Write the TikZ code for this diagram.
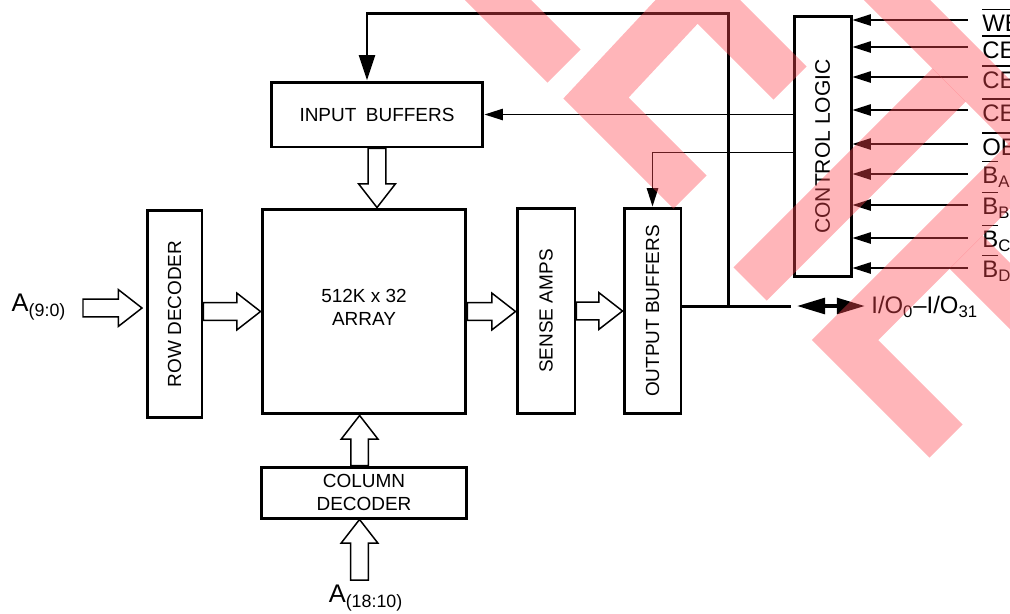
\documentclass[tikz,border=0pt]{standalone}
\usepackage{fontspec}
\setmainfont{Liberation Sans}
\usepackage{graphicx}
\usetikzlibrary{arrows.meta,calc,positioning}
\definecolor{wmred}{RGB}{255,70,80}
\newcommand{\negsig}[1]{\leavevmode\vbox{\hrule height 0.8pt\kern 2.8pt\hbox{#1}}}

\begin{document}
\begin{tikzpicture}[x=0.02cm, y=-0.02cm,
    block/.style={draw, line width=1.7pt, inner sep=0pt, align=center, font=\fontsize{10.8}{13}\selectfont},
    sig/.style={anchor=west, inner sep=0pt, font=\fontsize{13.6}{16}\selectfont},
    addr/.style={inner sep=0pt, font=\fontsize{14.5}{16}\selectfont},
    bus/.style={draw, line width=0.85pt, fill=white, line join=miter},
    rbus/.style={bus, to path={let \p1=(\tikztostart), \p2=(\tikztotarget) in (\x1,\y1+5pt) -- (\x2-13.5pt,\y1+5pt) -- (\x2-13.5pt,\y1+10.5pt) -- (\x2,\y1) -- (\x2-13.5pt,\y1-10.5pt) -- (\x2-13.5pt,\y1-5pt) -- (\x1,\y1-5pt) -- cycle}},
    ubus/.style={bus, to path={let \p1=(\tikztostart), \p2=(\tikztotarget) in (\x1-5pt,\y1) -- (\x1-5pt,\y2-13.5pt) -- (\x1-10.5pt,\y2-13.5pt) -- (\x1,\y2) -- (\x1+10.5pt,\y2-13.5pt) -- (\x1+5pt,\y2-13.5pt) -- (\x1+5pt,\y1) -- cycle}},
    dbus/.style={bus, to path={let \p1=(\tikztostart), \p2=(\tikztotarget) in (\x1-5pt,\y1) -- (\x1-5pt,\y2+13.5pt) -- (\x1-10.5pt,\y2+13.5pt) -- (\x1,\y2) -- (\x1+10.5pt,\y2+13.5pt) -- (\x1+5pt,\y2+13.5pt) -- (\x1+5pt,\y1) -- cycle}},
    ctl/.style={-{Triangle[length=10.5pt,width=6.5pt]}, line width=0.75pt},
    trunk/.style={line width=1.7pt},
    dbl/.style={{Triangle[length=16pt,width=9pt]}-{Triangle[length=16pt,width=9pt]}, line width=2pt},
    wm/.style={wmred, opacity=0.4, line width=0.94cm, line join=miter}
]
    \useasboundingbox (0,0) rectangle (1010,613);

    % blocks
    \node[block, minimum width=4.24cm, minimum height=1.3cm] (inbuf) at (377,114.5) {INPUT\enspace BUFFERS};
    \node[block, minimum width=4.08cm, minimum height=4.1cm] (array) at (364,311.5) {512K x 32\\ARRAY\\[-8pt]};
    \node[block, minimum width=1.1cm, minimum height=4.16cm] (rowdec) at (174.5,314) {\rotatebox{90}{ROW DECODER}};
    \node[block, minimum width=4.12cm, minimum height=1.02cm] (coldec) at (364,492.5) {COLUMN\\DECODER};
    \node[block, minimum width=1.16cm, minimum height=4.12cm] (sense) at (546,311) {\rotatebox{90}{SENSE AMPS}};
    \node[block, minimum width=1.14cm, minimum height=4.12cm] (outbuf) at (652.5,311) {\rotatebox{90}{OUTPUT BUFFERS}};
    \node[block, minimum width=1.14cm, minimum height=5.22cm, font=\fontsize{12}{14}\selectfont] (ctrl) at (822.5,146.5) {\rotatebox{90}{CONTROL LOGIC}};

    % address inputs
    \node[addr] (arow) at (39,307) {A\textsubscript{(9:0)}};
    \node[addr] (acol) at (366,598) {A\textsubscript{(18:10)}};
    \coordinate (rowin) at (83,308);
    \coordinate (colin) at (359.5,580);

    % data path
    \draw[rbus] (rowin) to ([xshift=-2pt]rowin -| rowdec.west);
    \draw[rbus] (rowdec.east |- array.west) to (array.west);
    \draw[rbus] (array.east) to (array.east -| sense.west);
    \draw[rbus] (sense.east) to (sense.east -| outbuf.west);
    \draw[dbus] (inbuf.south) to (inbuf.south |- array.north);
    \draw[ubus] ([xshift=-2.5pt]coldec.north) to ([xshift=-2.5pt]coldec.north |- array.south);
    \draw[ubus] (colin) to (colin |- coldec.south);

    % I/O bus and write-back path
    \coordinate (tap) at (728.5,306);
    \coordinate (busend) at (791,306);
    \coordinate (ret) at (367,13.5);
    \coordinate (iol) at (797,306);
    \draw[trunk] (busend -| outbuf.east) -- (busend);
    \draw[trunk, -{Triangle[length=14.5pt,width=9pt]}] (tap) |- (ret) -- (ret |- inbuf.north);
    \node[sig] (io) at (871,307) {I/O\textsubscript{0}--I/O\textsubscript{31}};
    \draw[dbl] (iol) -- ([xshift=-3.5pt]io.west |- iol);

    % control outputs
    \draw[ctl] (ctrl.west |- inbuf.east) -- (inbuf.east);
    \draw[ctl] (ctrl.west |- 0,152.5) -| (outbuf.north);

    % control inputs
    \node[sig] (we) at (982,20) {\negsig{WE}};
    \node[sig] (ce1) at (982,47) {\negsig{CE}};
    \node[sig] (ce2) at (982,77) {\negsig{CE}};
    \node[sig] (ce3) at (982,110) {\negsig{CE}};
    \node[sig] (oe) at (982,144) {\negsig{OE}};
    \node[sig] (ba) at (982,174) {\negsig{B}\textsubscript{A}};
    \node[sig] (bb) at (982,205) {\negsig{B}\textsubscript{B}};
    \node[sig] (bc) at (982,238) {\negsig{B}\textsubscript{C}};
    \node[sig] (bd) at (982,268) {\negsig{B}\textsubscript{D}};
    \draw[ctl] ([xshift=-8pt]we.west) -- (we.west -| ctrl.east);
    \draw[ctl] ([xshift=-8pt]ce1.west) -- (ce1.west -| ctrl.east);
    \draw[ctl] ([xshift=-8pt]ce2.west) -- (ce2.west -| ctrl.east);
    \draw[ctl] ([xshift=-8pt]ce3.west) -- (ce3.west -| ctrl.east);
    \draw[ctl] ([xshift=-8pt]oe.west) -- (oe.west -| ctrl.east);
    \draw[ctl] ([xshift=-8pt]ba.west) -- (ba.west -| ctrl.east);
    \draw[ctl] ([xshift=-8pt]bb.west) -- (bb.west -| ctrl.east);
    \draw[ctl] ([xshift=-8pt]bc.west) -- (bc.west -| ctrl.east);
    \draw[ctl] ([xshift=-8pt]bd.west) -- (bd.west -| ctrl.east);

    % watermark
    \draw[wm] (444,-54) -- (564,66);
    \draw[wm] (690,192) -- (596,98) -- (697,-10) -- (790,83);
    \draw[wm] (850,-47) -- (1070,173);
    \draw[wm] (750,284) -- (949,85);
    \draw[wm] (946,441) -- (845,340) -- (1060,125);
    \draw[wm] (966,252) -- (1090,376);
\end{tikzpicture}
\end{document}
